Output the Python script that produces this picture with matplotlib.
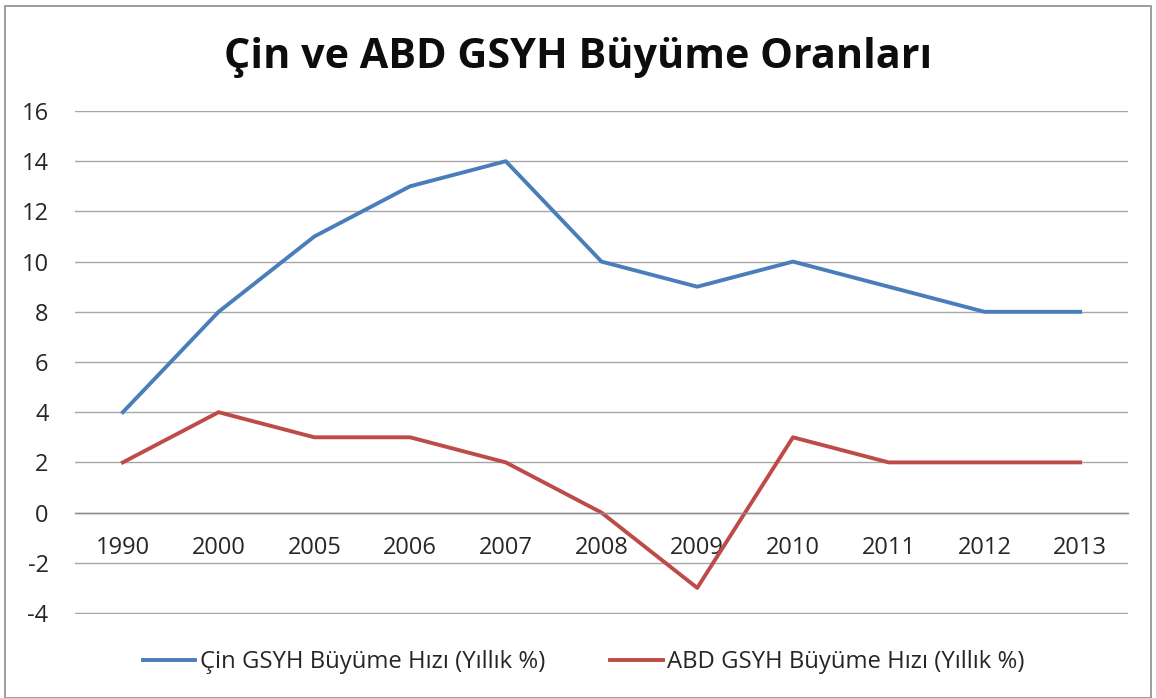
import numpy as np
import matplotlib.pyplot as plt
from matplotlib.patches import Rectangle

plt.rcParams['font.family'] = ['Open Sans', 'DejaVu Sans']
plt.rcParams['axes.unicode_minus'] = False

# data
years = ['1990', '2000', '2005', '2006', '2007', '2008', '2009', '2010', '2011', '2012', '2013']
cin = [4, 8, 11, 13, 14, 10, 9, 10, 9, 8, 8]
abd = [2, 4, 3, 3, 2, 0, -3, 3, 2, 2, 2]

fig = plt.figure(figsize=(11.56, 6.98), dpi=100)
ax = fig.add_axes([75/1156, 1 - 614/698, (1128-75)/1156, (614-111)/698])

x = np.arange(len(years))
ax.plot(x, cin, color='#4A7EBB', lw=2.8, label='Çin GSYH Büyüme Hızı (Yıllık %)')
ax.plot(x, abd, color='#BE4B48', lw=2.8, label='ABD GSYH Büyüme Hızı (Yıllık %)')

ax.set_xlim(-0.5, len(years) - 0.5)
ax.set_ylim(-4.04, 16)
ax.set_yticks(range(-4, 17, 2))
ax.yaxis.grid(True, color='#A6A6A6', lw=1.0)
ax.set_axisbelow(True)
for s in ['top', 'right', 'left']:
    ax.spines[s].set_visible(False)
ax.spines['bottom'].set_position(('data', 0))
ax.spines['bottom'].set_color('#8C8C8C')
ax.spines['bottom'].set_linewidth(1.0)
ax.set_xticks(x)
ax.set_xticklabels(years)
ax.tick_params(axis='x', length=0, pad=17, labelsize=17, colors='#262626')
ax.tick_params(axis='y', length=0, pad=19, labelsize=17, colors='#262626')

fig.text(0.5, 1 - 58/698, 'Çin ve ABD GSYH Büyüme Oranları', ha='center', va='center',
         fontsize=29.8, fontweight='bold', color='#0D0D0D')

fig.legend(loc='center', bbox_to_anchor=(0.505, 1 - 662/698), ncol=2, frameon=False,
           fontsize=17.2, handlelength=2.2, handletextpad=0.2, columnspacing=2.7,
           labelcolor='#262626')

fig.patches.append(Rectangle((5/1156, 0), 1146/1156, 1 - 6/698, transform=fig.transFigure,
                             fill=False, edgecolor='#8C8C8C', lw=1.2))

fig.savefig('out.png', dpi=100)
